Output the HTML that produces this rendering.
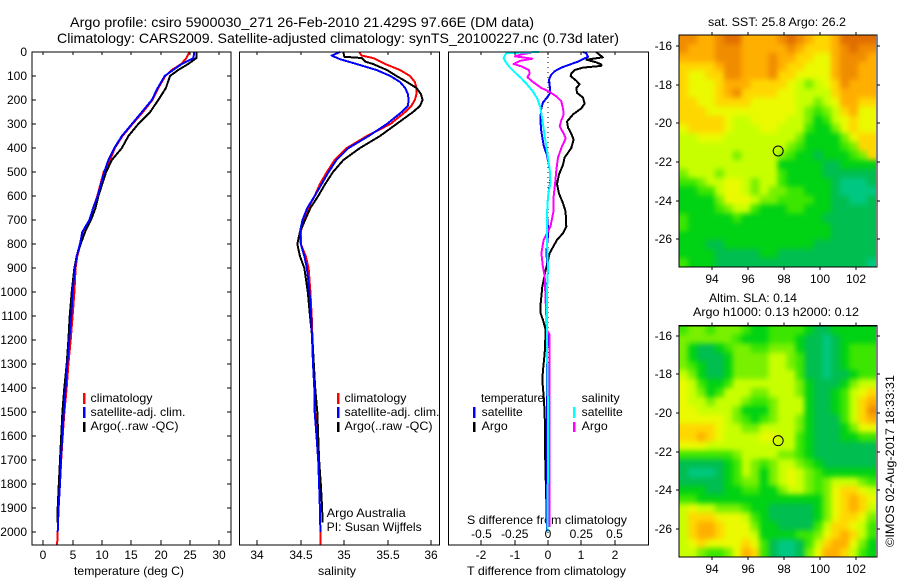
<!DOCTYPE html>
<html>
<head>
<meta charset="utf-8">
<title>Argo profile</title>
<style>
html,body{margin:0;padding:0;background:#fff;}
svg{display:block;}
text{font-family:"Liberation Sans",sans-serif;font-size:12px;fill:#000;}
.title{font-size:14px;}
</style>
</head>
<body>
<svg id="chart" width="900" height="580" viewBox="0 0 900 580" xmlns="http://www.w3.org/2000/svg">
<defs>
<filter id="smooth" filterUnits="userSpaceOnUse" x="660" y="15" width="240" height="560" color-interpolation-filters="sRGB">
<feGaussianBlur stdDeviation="2.6"/>
<feComponentTransfer><feFuncA type="linear" slope="100" intercept="0"/></feComponentTransfer>
</filter>
<clipPath id="sst-clip"><rect x="679" y="35" width="197" height="232"/></clipPath>
<clipPath id="sla-clip"><rect x="679" y="325.7" width="197" height="231.3"/></clipPath>
</defs>
<rect x="0" y="0" width="900" height="580" fill="#fff"/>
<text class="title" x="70" y="27" textLength="464" lengthAdjust="spacingAndGlyphs">Argo profile: csiro 5900030_271 26-Feb-2010 21.429S 97.66E (DM data)</text>
<text class="title" x="57" y="43" textLength="562" lengthAdjust="spacingAndGlyphs">Climatology: CARS2009. Satellite-adjusted climatology: synTS_20100227.nc (0.73d later)</text>
<text x="74" y="575" textLength="110" lengthAdjust="spacingAndGlyphs">temperature (deg C)</text>
<text x="318" y="575" textLength="38" lengthAdjust="spacingAndGlyphs">salinity</text>
<text x="467" y="575" textLength="159" lengthAdjust="spacingAndGlyphs">T difference from climatology</text>
<text x="467" y="524" textLength="160" lengthAdjust="spacingAndGlyphs">S difference from climatology</text>
<text x="90.5" y="402" textLength="62" lengthAdjust="spacingAndGlyphs">climatology</text>
<text x="90.5" y="416" textLength="95" lengthAdjust="spacingAndGlyphs">satellite-adj. clim.</text>
<text x="90.5" y="430" textLength="88" lengthAdjust="spacingAndGlyphs">Argo(..raw -QC)</text>
<text x="344.5" y="402" textLength="62" lengthAdjust="spacingAndGlyphs">climatology</text>
<text x="344.5" y="416" textLength="95" lengthAdjust="spacingAndGlyphs">satellite-adj. clim.</text>
<text x="344.5" y="430" textLength="88" lengthAdjust="spacingAndGlyphs">Argo(..raw -QC)</text>
<text x="326.7" y="517" textLength="79" lengthAdjust="spacingAndGlyphs">Argo Australia</text>
<text x="326.7" y="531" textLength="95" lengthAdjust="spacingAndGlyphs">PI: Susan Wijffels</text>
<text x="481" y="402" textLength="63" lengthAdjust="spacingAndGlyphs">temperature</text>
<text x="481.7" y="416" textLength="41" lengthAdjust="spacingAndGlyphs">satellite</text>
<text x="481.7" y="430" textLength="26" lengthAdjust="spacingAndGlyphs">Argo</text>
<text x="581.7" y="402" textLength="38" lengthAdjust="spacingAndGlyphs">salinity</text>
<text x="581.7" y="416" textLength="41" lengthAdjust="spacingAndGlyphs">satellite</text>
<text x="581.7" y="430" textLength="26" lengthAdjust="spacingAndGlyphs">Argo</text>
<text x="708" y="26" textLength="138" lengthAdjust="spacingAndGlyphs">sat. SST: 25.8 Argo: 26.2</text>
<text x="709" y="302" textLength="88" lengthAdjust="spacingAndGlyphs">Altim. SLA: 0.14</text>
<text x="693" y="316" textLength="166" lengthAdjust="spacingAndGlyphs">Argo h1000: 0.13 h2000: 0.12</text>
<text transform="translate(894,547) rotate(-90)" textLength="172" lengthAdjust="spacingAndGlyphs">©IMOS 02-Aug-2017 18:33:31</text>
</svg>
<script>
// ---- axis tick values ----
var depthTicks = [0,100,200,300,400,500,600,700,800,900,1000,1100,1200,1300,1400,1500,1600,1700,1800,1900,2000];
var tempTicks = [0,5,10,15,20,25,30];
var salTicks = [34,34.5,35,35.5,36];
var tDiffTicks = [-2,-1,0,1,2];
var sDiffTicks = [-0.5,-0.25,0,0.25,0.5];
var lonTicks = [94,96,98,100,102];
var latTicks = [-16,-18,-20,-22,-24,-26];

// ---- temperature profiles ----
var tempClimDepth = [0,25,50,75,100,150,200,250,300,350,400,450,500,600,650,700,750,800,850,900,1000,1100,1200,1300,1400,1500,1600,1700,1800,1900,2000,2054];
var tempClim = [24.9,24.4,23.5,21.9,20.8,19.6,18.6,17.0,15.2,13.5,12.2,11.4,10.3,9.2,8.5,7.9,6.7,6.3,5.8,5.5,5.3,5.0,4.67,4.27,3.98,3.6,3.3,3.05,2.85,2.6,2.45,2.35];
var tempArgoDepth = [0,25,50,75,100,150,200,250,300,350,400,450,500,600,650,700,750,800,850,900,1000,1100,1200,1300,1400,1500,1600,1700,1800,1900,1960];
var tempArgo = [26.1,26.1,24.7,23.0,21.6,20.9,19.6,18.2,16.2,14.5,13.4,11.7,10.7,9.4,8.9,8.13,7.1,6.37,5.7,5.3,4.84,4.5,4.27,3.98,3.58,3.25,3.05,2.85,2.65,2.45,2.4];
var tempSatDepth = [0,25,50,75,100,150,200,250,300,350,400,450,500,600,650,700,750,800,850,900,1000,1100,1200,1300,1400,1500,1600,1700,1800,1900,2000];
var tempSat = [25.7,25.6,23.6,22.1,20.7,19.5,18.5,16.8,15.1,13.4,12.1,11.1,10.4,9.27,8.5,7.85,6.65,6.25,5.7,5.4,5.0,4.78,4.43,4.09,3.8,3.5,3.25,3.0,2.85,2.6,2.45];

// ---- salinity profiles ----
var salClimDepth = [0,15,25,50,75,100,125,150,175,200,225,250,300,350,400,450,500,550,600,650,700,750,800,850,900,1000,1100,1200,1300,1400,1500,1600,1700,1800,1900,2000,2054];
var salClim = [35.17,35.2,35.33,35.47,35.64,35.755,35.81,35.83,35.83,35.81,35.77,35.70,35.53,35.26,35.03,34.89,34.80,34.72,34.66,34.585,34.53,34.5,34.5,34.556,34.59,34.61,34.625,34.635,34.64,34.655,34.665,34.68,34.70,34.71,34.72,34.725,34.725];
var salArgoDepth = [0,20,25,40,50,75,100,125,150,175,200,225,250,300,350,400,450,500,550,600,650,700,750,800,850,900,1000,1100,1200,1300,1400,1500,1600,1700,1800,1900,1960];
var salArgo = [34.99,35.0,35.2,35.24,35.33,35.49,35.6,35.72,35.83,35.88,35.9,35.87,35.79,35.6,35.41,35.18,34.99,34.87,34.78,34.70,34.61,34.55,34.49,34.46,34.49,34.54,34.58,34.606,34.635,34.65,34.665,34.69,34.70,34.71,34.73,34.745,34.75];
var salSatDepth = [0,15,30,50,75,100,125,150,175,200,225,250,300,350,400,450,500,550,600,650,700,750,800,850,900,1000,1100,1200,1300,1400,1500,1600,1700,1800,1900,2000];
var salSat = [34.95,34.855,34.95,35.14,35.37,35.53,35.64,35.70,35.73,35.74,35.73,35.66,35.49,35.28,35.05,34.91,34.82,34.74,34.66,34.575,34.52,34.49,34.5,34.54,34.57,34.6,34.62,34.63,34.64,34.655,34.66,34.68,34.70,34.71,34.72,34.725];

// ---- T differences (deg C) ----
var tDiffArgoDepth = [0,12,22,32,43,52,58,65,75,90,100,120,135,150,170,190,215,235,260,290,315,340,365,400,440,470,510,550,590,630,665,728,755,783,838,908,978,1047,1089,1117,1158,1255,1325,1366,1436,1506,1714,1979];
var tDiffArgo = [1.45,1.55,1.65,1.15,1.45,1.6,1.6,1.05,0.8,0.7,0.68,0.85,0.95,0.85,0.87,1.05,1.1,1.0,0.75,0.57,0.6,0.7,0.77,0.7,0.5,0.45,0.33,0.27,0.33,0.45,0.53,0.55,0.45,0.27,0.05,-0.07,-0.17,-0.22,-0.22,-0.15,-0.07,-0.1,-0.15,-0.17,-0.13,-0.1,-0.08,-0.03];
var tDiffSatDepth = [0,5,20,30,40,55,65,80,95,115,140,170,190,210,235,280,330,390,430,490,540,600,680,750,838,908,980,1200,1400,2000];
var tDiffSat = [1.05,1.15,1.2,1.05,0.9,0.6,0.4,0.2,0.1,0.03,0.05,0.07,-0.03,-0.15,-0.2,-0.23,-0.2,-0.13,-0.03,0.05,0.07,0,-0.03,0.01,-0.05,0,-0.03,-0.02,-0.03,-0.03];

// ---- S differences (psu) ----
var sDiffSatDepth = [0,5,15,25,40,60,85,110,135,165,195,230,280,350,420,490,545,600,680,780,900,1000,1200,1500,2000];
var sDiffSat = [-0.068,-0.313,-0.325,-0.333,-0.32,-0.293,-0.25,-0.2,-0.158,-0.113,-0.08,-0.058,-0.043,-0.025,-0.005,0.013,0.018,0,-0.008,-0.008,0,-0.008,-0.008,0,-0.003];
var sDiffArgoDepth = [3,10,18,28,37,50,60,75,90,105,125,150,165,185,205,235,260,285,310,340,360,400,440,490,540,600,660,728,755,783,838,894,936,1033,1158,1180,1250,1500,1979];
var sDiffArgo = [-0.125,-0.2,-0.25,-0.118,-0.213,-0.258,-0.2,-0.143,-0.138,-0.155,-0.113,-0.05,0.008,0.063,0.1,0.113,0.118,0.1,0.088,0.118,0.133,0.1,0.075,0.063,0.055,0.043,0.043,0.018,-0.008,-0.033,-0.05,-0.038,-0.025,-0.018,-0.008,0.013,0.013,0.013,0.013];

// ---- map grids: colour-level of each cell, north to south ----
var sstLevels = [
[9,9,8,8,9,10,10,8,8,8,8,9,10,9,8,7,7,8,10,10,10,10],
[9,8,8,8,9,9,9,8,8,8,8,8,9,8,7,7,7,8,9,10,9,9],
[8,8,8,8,9,9,9,8,8,8,9,8,8,7,7,6,6,8,9,9,9,8],
[7,7,7,7,8,9,9,8,8,8,9,8,7,7,6,6,6,8,9,9,8,8],
[7,6,6,7,7,9,9,8,8,8,9,7,7,6,6,6,6,8,9,9,8,8],
[7,6,6,6,7,8,8,8,7,7,7,7,6,5,4,5,6,7,9,8,8,8],
[7,6,6,6,7,8,9,7,7,7,7,6,6,5,5,5,5,7,8,8,8,8],
[7,7,6,6,7,7,7,7,6,6,6,6,6,5,5,4,5,6,8,8,7,7],
[7,7,7,6,6,6,6,6,6,6,6,6,6,5,4,3,4,5,7,8,6,6],
[7,7,7,7,7,6,5,5,6,6,6,6,5,5,4,2,3,5,6,7,6,6],
[6,7,7,7,7,6,5,5,5,6,6,5,5,5,3,2,2,4,6,7,6,6],
[5,5,6,6,6,5,5,5,5,5,5,5,5,4,2,2,2,2,4,6,7,7],
[5,5,5,5,5,5,5,5,5,5,5,5,4,3,2,2,2,2,3,4,7,7],
[5,5,5,5,5,5,4,5,5,5,5,4,3,2,2,1,2,2,2,3,4,7],
[5,5,5,5,5,5,5,5,5,5,5,2,2,2,2,2,1,1,2,2,2,2],
[4,5,5,5,4,5,5,5,5,5,5,3,2,2,2,2,1,1,1,1,1,1],
[3,3,4,5,5,6,6,5,4,5,5,3,2,2,2,2,2,1,0,0,0,1],
[2,2,3,3,5,6,6,5,4,5,4,4,3,3,2,2,2,1,0,0,0,0],
[2,2,2,2,4,6,6,6,5,4,4,3,3,3,3,2,2,1,1,0,0,1],
[2,2,2,2,3,4,5,5,3,2,2,2,3,3,2,2,2,1,1,1,1,1],
[3,2,2,2,2,2,3,2,2,2,2,2,2,2,2,2,1,1,1,1,1,1],
[3,2,2,2,2,2,2,2,2,2,2,2,2,2,2,2,2,1,1,1,1,1],
[2,2,2,2,2,2,2,2,2,2,2,2,2,2,2,2,2,1,1,1,1,1],
[2,2,2,1,1,2,2,2,2,2,2,2,2,2,2,1,1,1,1,1,1,1],
[2,2,2,2,1,1,1,1,1,2,2,1,1,1,1,1,1,1,1,1,1,1],
[3,2,2,2,1,1,1,1,1,1,1,1,1,1,1,1,1,1,1,1,1,0]
];
var slaLevels = [
[3,4,4,3,4,4,4,3,2,2,3,3,3,3,2,1,1,2,2,2,2,2],
[4,4,4,4,4,4,3,2,2,2,3,3,3,2,1,1,0,1,2,2,2,2],
[4,2,1,1,2,3,4,4,3,3,4,4,4,2,1,1,0,1,2,3,3,3],
[4,2,1,1,1,2,4,4,4,4,5,5,4,3,1,1,0,1,2,3,3,3],
[4,3,2,1,1,2,4,4,4,4,5,5,4,3,1,1,0,1,2,3,3,3],
[5,4,2,1,1,2,4,4,4,4,5,5,5,3,1,1,0,1,1,2,3,3],
[6,5,3,2,2,3,5,5,5,5,5,5,5,4,2,1,1,1,2,4,5,5],
[6,5,4,2,3,5,5,5,4,4,5,5,5,4,2,1,1,2,3,5,6,7],
[6,5,5,4,5,5,5,4,3,3,4,5,5,5,2,1,1,2,3,5,7,8],
[6,6,5,5,5,5,4,2,2,2,4,5,5,5,2,1,1,2,3,5,7,9],
[6,6,6,6,6,5,4,3,2,3,4,5,5,4,2,1,1,1,3,5,7,8],
[7,7,7,7,6,5,5,4,4,5,5,5,5,4,2,1,1,1,2,4,6,6],
[7,7,8,7,6,5,5,5,5,6,6,5,5,3,2,1,1,1,2,2,3,3],
[6,6,6,5,5,5,5,5,5,5,5,5,5,3,2,1,1,1,1,1,1,1],
[3,3,3,3,3,3,4,5,5,5,5,4,4,3,2,1,1,1,1,1,1,1],
[1,1,1,1,1,2,3,5,4,3,4,5,5,4,3,2,1,1,1,1,1,1],
[1,0,0,0,1,2,3,5,4,2,4,5,6,5,4,3,2,2,2,2,2,2],
[1,1,1,1,1,2,3,4,4,2,4,5,6,5,4,3,4,5,5,5,4,3],
[2,2,2,1,1,2,2,3,3,2,2,4,5,5,4,3,4,6,7,7,6,5],
[3,3,2,2,2,2,2,2,2,2,2,2,2,2,2,2,4,6,7,8,7,6],
[5,6,5,5,4,4,4,3,2,2,1,1,1,1,1,2,4,6,7,8,7,5],
[5,7,7,7,6,6,6,5,3,2,1,1,1,1,1,2,4,6,7,7,6,4],
[5,7,8,8,7,6,6,6,4,2,2,1,1,1,1,3,5,7,7,6,5,3],
[5,7,8,8,7,6,6,6,5,2,2,2,2,3,3,4,6,7,8,7,5,3],
[5,6,7,6,6,6,6,7,6,3,1,0,0,1,3,5,7,8,8,6,4,2],
[5,5,4,3,3,4,6,8,7,3,1,0,0,1,4,6,8,8,7,5,3,2]
];
var levelColors = ['#00c882','#00be50','#00d214','#3ce600','#78f000','#c8ff00','#ebfa00','#ffd700','#ffaf00','#f08c00','#e16e00'];
var floatLon = 97.66;
var floatLat = -21.43;

// ---- drawing ----
var svg = document.getElementById('chart');
var NS = 'http://www.w3.org/2000/svg';
function make(tag, attrs, parent) {
  var el = document.createElementNS(NS, tag);
  for (var k in attrs) { el.setAttribute(k, attrs[k]); }
  (parent || svg).appendChild(el);
  return el;
}
function label(str, x, y, anchor, name) {
  var el = make('text', {x: x, y: y, 'text-anchor': anchor});
  el.textContent = str;
  
  
  return el;
}
function rule(x1, y1, x2, y2, name) {
  var el = make('line', {x1: x1, y1: y1, x2: x2, y2: y2, stroke: '#000', 'stroke-width': 1, 'shape-rendering': 'crispEdges'});
  
  
  return el;
}
var TOP = 52, BOTTOM = 545;
function yDepth(d) { return 52 + d * 0.24; }
function xTemp(t) { return 43.3 + t * 5.867; }
function xSal(s) { return 257.3 + (s - 34) * 87; }
function xTDiff(t) { return 548 + t * 33.3; }
function xSDiff(s) { return 548 + s * 133; }

function series(depths, values, xf, color, width, name) {
  var pts = [];
  for (var i = 0; i < values.length; i++) {
    pts.push(xf(values[i]).toFixed(1) + ',' + yDepth(depths[i]).toFixed(1));
  }
  var el = make('polyline', {points: pts.join(' '), fill: 'none', stroke: color, 'stroke-width': width, 'stroke-linejoin': 'round', 'shape-rendering': 'crispEdges'});
  
  
}
function frame(x1, x2, y1, y2, name) {
  var el = make('rect', {x: x1, y: y1, width: x2 - x1, height: y2 - y1, fill: 'none', stroke: '#000', 'stroke-width': 1.4, 'shape-rendering': 'crispEdges'});
  
  
}
function xTicks(ticks, xf, prefix, labelY) {
  ticks.forEach(function (v) {
    var x = Math.round(xf(v));
    rule(x, TOP, x, TOP + 3, prefix + '-top-tick');
    rule(x, BOTTOM, x, BOTTOM - 5, prefix + '-bottom-tick');
    label(String(v), x, labelY, 'middle', prefix + '-tick-label');
  });
}
function bar(x, y1, y2, color, name) {
  var el = make('rect', {x: x, y: y1, width: 2.5, height: y2 - y1, fill: color, 'shape-rendering': 'crispEdges'});
  
  
}

// temperature panel
series(tempClimDepth, tempClim, xTemp, '#ff0000', 2, 'temperature-climatology-line');
series(tempArgoDepth, tempArgo, xTemp, '#000000', 2, 'temperature-argo-line');
series(tempSatDepth, tempSat, xTemp, '#0000ff', 2, 'temperature-satellite-line');
frame(32, 231, TOP, BOTTOM, 'temperature-panel-frame');
xTicks(tempTicks, xTemp, 'temperature-axis', 559);
depthTicks.forEach(function (d) {
  var y = Math.round(yDepth(d));
  rule(32, y, 36, y, 'depth-left-tick');
  rule(227, y, 231, y, 'depth-right-tick');
  label(String(d), 27, y + 4, 'end', 'depth-tick-label');
});
bar(83, 393, 404, '#ff0000', 'legend-climatology-swatch');
bar(83, 407, 418, '#0000ff', 'legend-satellite-swatch');
bar(83, 422, 432, '#000000', 'legend-argo-swatch');

// salinity panel
series(salClimDepth, salClim, xSal, '#ff0000', 2, 'salinity-climatology-line');
series(salArgoDepth, salArgo, xSal, '#000000', 2, 'salinity-argo-line');
series(salSatDepth, salSat, xSal, '#0000ff', 2, 'salinity-satellite-line');
frame(239.5, 439.5, TOP, BOTTOM, 'salinity-panel-frame');
xTicks(salTicks, xSal, 'salinity-axis', 559);
bar(337, 393, 404, '#ff0000', 'salinity-legend-climatology-swatch');
bar(337, 407, 418, '#0000ff', 'salinity-legend-satellite-swatch');
bar(337, 422, 432, '#000000', 'salinity-legend-argo-swatch');

// difference panel
var zero = make('line', {x1: 548, y1: TOP, x2: 548, y2: BOTTOM, stroke: '#000', 'stroke-width': 1, 'stroke-dasharray': '1 4', 'shape-rendering': 'crispEdges'});


series(tDiffArgoDepth, tDiffArgo, xTDiff, '#000000', 2, 't-difference-argo-line');
series(tDiffSatDepth, tDiffSat, xTDiff, '#0000ff', 2, 't-difference-satellite-line');
series(sDiffArgoDepth, sDiffArgo, xSDiff, '#ff00ff', 2, 's-difference-argo-line');
series(sDiffSatDepth, sDiffSat, xSDiff, '#00ffff', 2, 's-difference-satellite-line');
frame(448.5, 648.5, TOP, BOTTOM, 'difference-panel-frame');
xTicks(tDiffTicks, xTDiff, 't-difference-axis', 559);
sDiffTicks.forEach(function (v) {
  label(String(v), xSDiff(v), 538, 'middle', 's-difference-tick-label');
});
bar(473, 407, 418, '#0000ff', 'diff-legend-t-satellite-swatch');
bar(473, 422, 432, '#000000', 'diff-legend-t-argo-swatch');
bar(573, 407, 418, '#00ffff', 'diff-legend-s-satellite-swatch');
bar(573, 422, 432, '#ff00ff', 'diff-legend-s-argo-swatch');

// maps
function drawMap(levels, top, bottom, yMinus16, prefix, clipId) {
  function xLon(lon) { return 712.3 + (lon - 94) * 18; }
  function yLat(lat) { return yMinus16 + (-16 - lat) * 19.33; }
  var left = 679, cellW = 197 / levels[0].length, cellH = (bottom - top) / levels.length;
  var clip = make('g', {'clip-path': 'url(#' + clipId + ')'});
  
  
  var smooth = make('g', {filter: 'url(#smooth)'}, clip);
  
  
  levels.forEach(function (row, r) {
    row.forEach(function (v, c) {
      var cell = make('rect', {x: (left + c * cellW).toFixed(2), y: (top + r * cellH).toFixed(2), width: (cellW + 0.5).toFixed(2), height: (cellH + 0.5).toFixed(2), fill: levelColors[v], 'shape-rendering': 'crispEdges'}, smooth);
      
      
    });
  });
  frame(679, 877, top, bottom, prefix + '-frame');
  lonTicks.forEach(function (lon) {
    var x = Math.round(xLon(lon));
    rule(x, top, x, top - 3, prefix + '-lon-top-tick');
    rule(x, bottom, x, bottom + 3, prefix + '-lon-bottom-tick');
    label(String(lon), x, bottom + 16, 'middle', prefix + '-lon-tick-label');
  });
  latTicks.forEach(function (lat) {
    var y = Math.round(yLat(lat));
    rule(679, y, 676, y, prefix + '-lat-left-tick');
    rule(877, y, 880, y, prefix + '-lat-right-tick');
    label(String(lat), 672, y + 4, 'end', prefix + '-lat-tick-label');
  });
  var c = make('circle', {cx: xLon(floatLon), cy: yLat(floatLat), r: 5, fill: 'none', stroke: '#000', 'stroke-width': 1});
  
  
}
drawMap(sstLevels, 35, 267, 46, 'sst-map', 'sst-clip');
drawMap(slaLevels, 325.7, 557, 335.7, 'sla-map', 'sla-clip');
</script>
</body>
</html>
